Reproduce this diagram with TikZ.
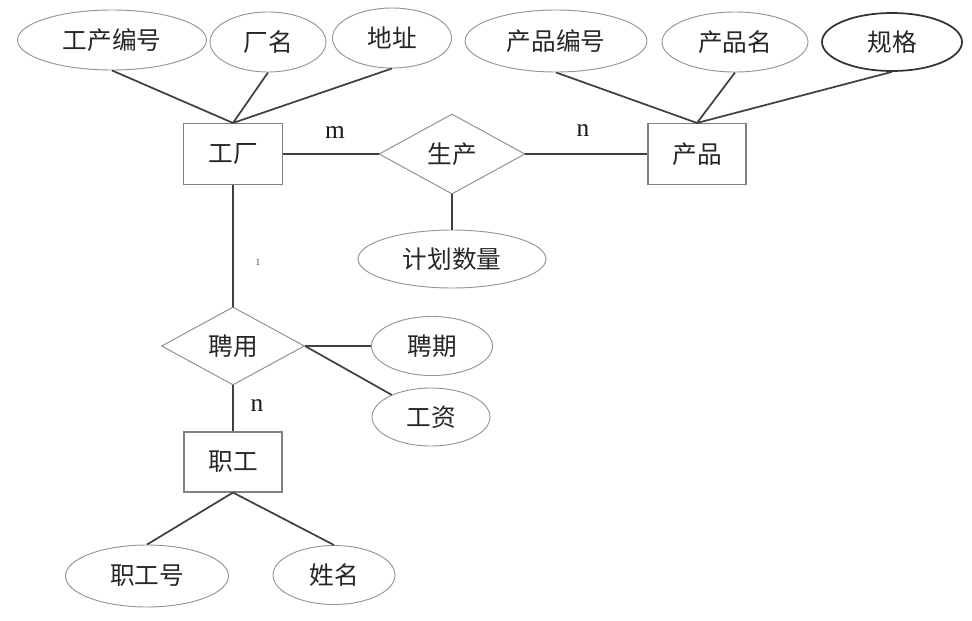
\documentclass[tikz,border=0pt]{standalone}
\usepackage{fontspec}
\setmainfont{Liberation Serif}
\newfontfamily\cjk{Noto Sans CJK SC}
\usetikzlibrary{shapes.geometric}
\begin{document}
\begin{tikzpicture}[x=0.75pt,y=-0.75pt,
  sz/.style 2 args={minimum width=#1*0.75pt, minimum height=#2*0.75pt, inner sep=0pt},
  attr/.style={ellipse, draw=black!42, line width=0.7pt, font=\cjk\fontsize{18.5}{22}\selectfont, text=black!85},
  ent/.style={rectangle, draw=black!50, line width=0.8pt, font=\cjk\fontsize{18.5}{22}\selectfont, text=black!85},
  rel/.style={diamond, draw=black!45, line width=0.7pt, font=\cjk\fontsize{18.5}{22}\selectfont, text=black!85},
  conn/.style={draw=black!75, line width=1.3pt},
  card/.style={font=\fontsize{19}{21}\selectfont, text=black!90}]
\useasboundingbox (0,0) rectangle (972,621);
% entities
\node[ent, sz={99}{61}] (gc) at (233,154) {工厂};
\node[ent, sz={98}{61}] (cp) at (697,154) {产品};
\node[ent, sz={98}{60}] (zg) at (233,462) {职工};
% relationships
\node[rel, sz={146}{80}] (sc) at (452,154) {生产};
\node[rel, sz={143}{78}] (py) at (233,346) {聘用};
% attributes
\node[attr, sz={189}{60}] (gcbh) at (112,40) {工产编号};
\node[attr, sz={116}{60}] (cm) at (268,42) {厂名};
\node[attr, sz={119}{60}] (dz) at (392,38) {地址};
\node[attr, sz={182}{62}] (cpbh) at (556,41) {产品编号};
\node[attr, sz={146}{60}] (cpm) at (735,42) {产品名};
\node[attr, sz={140}{58}, draw=black!80, line width=1.3pt] (gg) at (892,42) {规格};
\node[attr, sz={188}{58}] (jh) at (452,259) {计划数量};
\node[attr, sz={121}{59}] (pq) at (432,346) {聘期};
\node[attr, sz={118}{58}] (gz) at (431,417) {工资};
\node[attr, sz={163}{62}] (zgh) at (147,576) {职工号};
\node[attr, sz={122}{59}] (xm) at (334,575) {姓名};
% connectors
\draw[conn] (gcbh.south) -- (gc.north);
\draw[conn] (cm.south) -- (gc.north);
\draw[conn] (dz.south) -- (gc.north);
\draw[conn] (cpbh.south) -- (cp.north);
\draw[conn] (cpm.south) -- (cp.north);
\draw[conn] (gg.south) -- (cp.north);
\draw[conn] (gc.east) -- (sc.west);
\draw[conn] (sc.east) -- (cp.west);
\draw[conn] (sc.south) -- (jh.north);
\draw[conn] (gc.south) -- (py.north);
\draw[conn] (py.south) -- (zg.north);
\draw[conn] (py.east) -- (pq.west);
\draw[conn] (py.east) -- (gz);
\draw[conn] (zg.south) -- (zgh.north);
\draw[conn] (zg.south) -- (xm.north);
% cardinalities
\node[card] (lm) at (335,133) {m};
\node[card] (ln) at (583,131) {n};
\node[card] (ln2) at (257,406) {n};
\node[font=\fontsize{7}{8}\selectfont, text=black!75] (l1) at (258,262) {1};
\end{tikzpicture}
\end{document}
